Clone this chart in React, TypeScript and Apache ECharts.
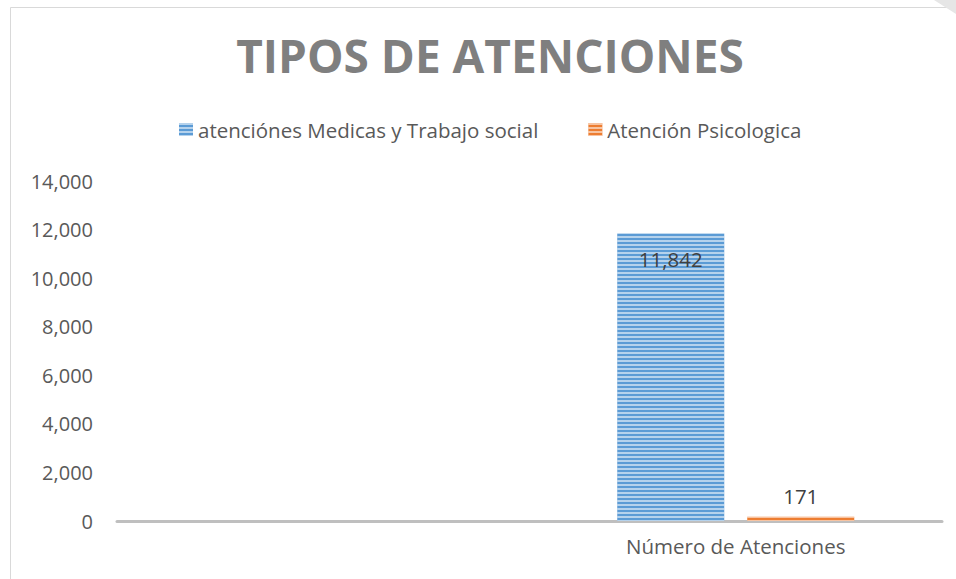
import React, { useEffect, useRef } from "react";
import * as echarts from "echarts";

const categories = ["", "Número de Atenciones"];
const seriesNames = ["atenciónes Medicas y Trabajo social", "Atención Psicologica"];
const medicasValues = [null, 11842];
const psicologicaValues = [null, 171];
const yTicks = { min: 0, max: 14000, interval: 2000 };
const titleText = "TIPOS DE ATENCIONES";

const FONT = "'Open Sans', sans-serif";
const fmt = (v: number) => Number(v).toLocaleString("en-US");

export default function App() {
  const ref = useRef<HTMLDivElement>(null);
  useEffect(() => {
    if (!ref.current) return;
    const chart = echarts.init(ref.current, undefined, { renderer: "svg" });
    const stripe = {
      symbol: "rect",
      symbolSize: 1,
      dashArrayX: [1, 0],
      dashArrayY: [1.5, 1.5],
      color: "rgba(255,255,255,0.55)",
      rotation: 0,
    };
    chart.setOption({
      animation: false,
      backgroundColor: "#ffffff",
      textStyle: { fontFamily: FONT },
      title: {
        text: titleText,
        left: 490,
        textAlign: "center",
        top: 32,
        padding: 0,
        textStyle: { fontFamily: FONT, fontSize: 46, fontWeight: "bold", color: "#7f7f7f" },
      },
      legend: {
        top: 114,
        left: 174,
        itemWidth: 14,
        itemHeight: 13,
        itemGap: 50,
        icon: "rect",
        textStyle: { fontFamily: FONT, fontSize: 20.5, color: "#595959" },
        data: seriesNames,
      },
      grid: { left: 117, right: 14, top: 181, bottom: 58, containLabel: false },
      xAxis: {
        type: "category",
        data: categories,
        axisLine: { show: true, lineStyle: { color: "#bfbfbf", width: 3 } },
        axisTick: { show: false },
        axisLabel: { fontFamily: FONT, fontSize: 20.5, color: "#595959", margin: 14 },
        splitLine: { show: false },
      },
      yAxis: {
        type: "value",
        min: yTicks.min,
        max: yTicks.max,
        interval: yTicks.interval,
        axisLine: { show: false },
        axisTick: { show: false },
        splitLine: { show: false },
        axisLabel: { fontFamily: FONT, fontSize: 20, color: "#595959", margin: 24, formatter: (v: number) => fmt(v) },
      },
      series: [
        {
          name: seriesNames[0],
          type: "bar",
          data: medicasValues,
          barWidth: 107,
          barGap: "21.5%",
          itemStyle: { color: "#5b9bd5", decal: stripe },
          label: {
            show: true,
            position: "insideTop",
            distance: 15,
            fontFamily: FONT,
            fontSize: 20.5,
            color: "#404040",
            formatter: (p: any) => fmt(p.value),
          },
        },
        {
          name: seriesNames[1],
          type: "bar",
          data: psicologicaValues,
          barWidth: 107,
          itemStyle: { color: "#ed7d31", decal: stripe },
          label: {
            show: true,
            position: "top",
            distance: 10,
            fontFamily: FONT,
            fontSize: 20.5,
            color: "#404040",
            formatter: (p: any) => fmt(p.value),
          },
        },
      ],
      graphic: [
        {
          type: "rect",
          silent: true,
          z: -1,
          shape: { x: 10.5, y: 7.5, width: 1000, height: 700 },
          style: { fill: "none", stroke: "#d9d9d9", lineWidth: 1 },
        },
        {
          type: "polygon",
          silent: true,
          shape: { points: [[934, 0], [956, 0], [956, 14]] },
          style: { fill: "#e6e6e6" },
        },
      ],
    });
    return () => chart.dispose();
  }, []);
  return (
    <div
      ref={ref}
      style={{ position: "fixed", left: 0, top: 0, width: 956, height: 579, background: "#fff" }}
    />
  );
}
